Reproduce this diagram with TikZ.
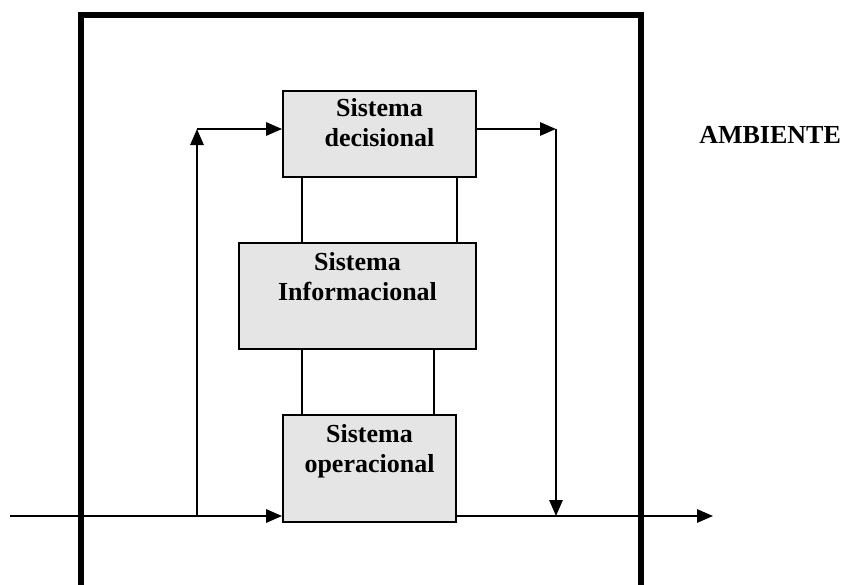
\documentclass[tikz,border=0pt]{standalone}
\usepackage{fontspec}
\setmainfont{Liberation Serif}
\usetikzlibrary{arrows.meta,positioning}
\begin{document}
\begin{tikzpicture}[x=0.75pt,y=-0.75pt,>={Triangle[length=12pt,width=10pt]},
	every node/.style={font=\bfseries\fontsize{19.5}{22.5}\selectfont},
	sysbox/.style={draw,line width=1.4pt,fill=black!10,rectangle,inner sep=0pt},
	boxtext/.style={align=center,inner sep=0pt},
	line/.style={line width=1.4pt},
	flow/.style={line width=1.4pt,->}]
	\useasboundingbox (0,0) rectangle (843,585);
	\draw[line width=4.3pt] (81,600) -- (81,15) -- (641,15) -- (641,600);
	\node[sysbox,minimum width=144.75pt,minimum height=64.5pt] (dec) at (379.5,134) {};
	\node[sysbox,minimum width=177.75pt,minimum height=79.5pt] (inf) at (357.5,296) {};
	\node[sysbox,minimum width=129.75pt,minimum height=80.25pt] (ope) at (369.5,468.5) {};
	\node[boxtext,below=6pt of dec.north] (dectxt) {Sistema\\decisional};
	\node[boxtext,below=7.5pt of inf.north] (inftxt) {Sistema\\Informacional};
	\node[boxtext,below=7.5pt of ope.north] (opetxt) {Sistema\\operacional};
	\node[anchor=west,inner sep=0pt] (amb) at (699,135) {AMBIENTE};
	% ligacoes entre os sistemas
	\draw[line] (dec.south west) ++(20,0) coordinate (d1) -- (d1 |- inf.north);
	\draw[line] (dec.south east) ++(-20,0) coordinate (d2) -- (d2 |- inf.north);
	\draw[line] (ope.north west) ++(20,0) coordinate (o1) -- (o1 |- inf.south);
	\draw[line] (ope.north east) ++(-23,0) coordinate (o2) -- (o2 |- inf.south);
	% fluxos
	\coordinate (in) at (10,516);
	\coordinate (split) at (197,516);
	\coordinate (up) at (197,129);
	\coordinate (down) at (556,129);
	\coordinate (join) at (556,516);
	\coordinate (out) at (713,516);
	\draw[line] (in) -- (split);
	\draw[flow] (split) -- (ope.west |- split);
	\draw[flow] (split) -- (up);
	\draw[flow] (up) -- (dec.west |- up);
	\draw[flow] (dec.east |- down) -- (down);
	\draw[flow] (down) -- (join);
	\draw[flow] (ope.east |- out) -- (out);
\end{tikzpicture}
\end{document}
